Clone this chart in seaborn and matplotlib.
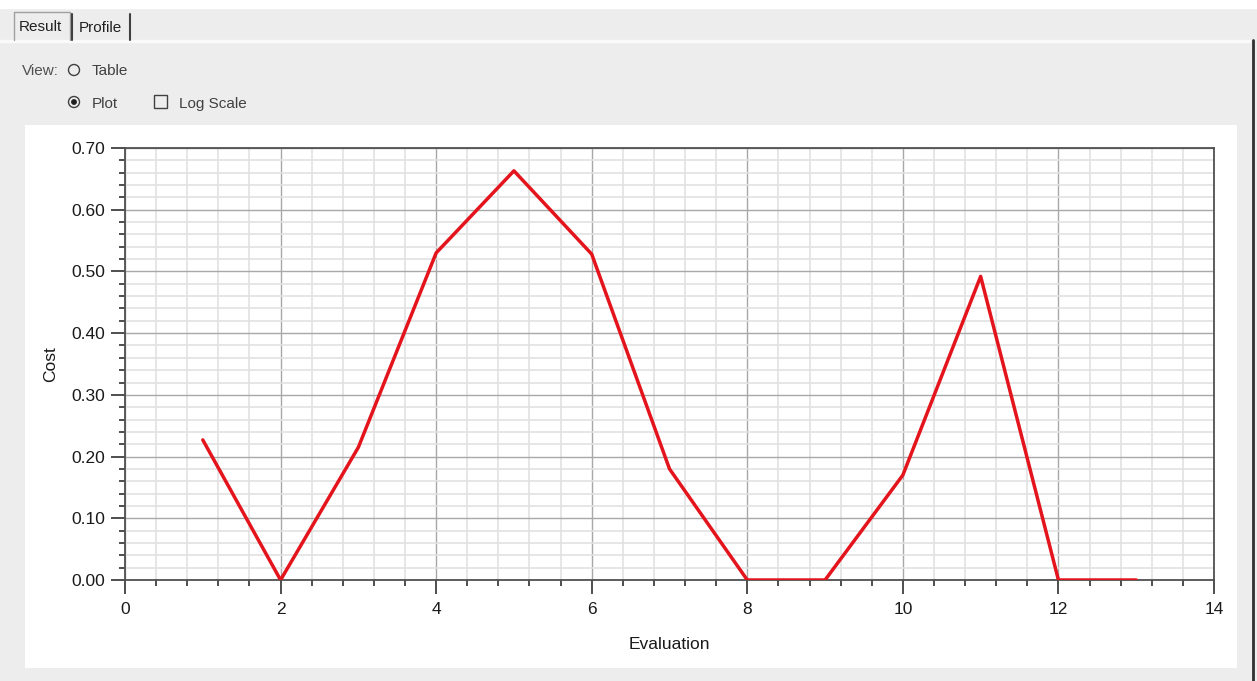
import matplotlib
matplotlib.use("Agg")
import matplotlib.pyplot as plt
import seaborn as sns
import pandas as pd
from matplotlib.patches import Rectangle, Circle
from matplotlib.ticker import MultipleLocator, FormatStrFormatter

evaluation = [1, 2, 3, 4, 5, 6, 7, 8, 9, 10, 11, 12, 13]
cost = [0.227, 0.0, 0.215, 0.530, 0.663, 0.528, 0.180, 0.0, 0.0, 0.170, 0.492, 0.0, 0.0]

df = pd.DataFrame({"Evaluation": evaluation, "Cost": cost})

sns.set_theme(style="white")
plt.rcParams['font.family'] = ['Liberation Sans', 'DejaVu Sans']

W, H = 1257, 681
fig = plt.figure(figsize=(W / 100, H / 100), dpi=100)
fig.patch.set_facecolor('#ededed')

def px(x, y, w, h):
    return (x / W, 1 - (y + h) / H, w / W, h / H)

# white plot panel
panel = fig.add_axes(px(25, 125, 1212, 543))
panel.set_facecolor('white')
panel.set_xticks([]); panel.set_yticks([])
for s in panel.spines.values():
    s.set_visible(False)

# UI: tabs and controls (overlay axes in pixel coordinates)
ui = fig.add_axes((0, 0, 1, 1), zorder=-1)
ui.set_xlim(0, W); ui.set_ylim(H, 0)
ui.axis('off')
ui.add_patch(Rectangle((0, 0), W, 8, color='white'))
ui.add_patch(Rectangle((0, 40), 1250, 2, color='#fafafa'))
ui.plot([14, 14, 70, 70], [40, 12, 12, 40], color='#a0a0a0', lw=1)
ui.plot([72, 72], [14, 40], color='#404040', lw=1.5)
ui.plot([130, 130], [14, 40], color='#404040', lw=1.5)
ui.text(19, 27, "Result", fontsize=11, va='center', ha='left', color='#202020')
ui.text(79, 28, "Profile", fontsize=11, va='center', ha='left', color='#202020')
ui.text(22, 71, "View:", fontsize=11, va='center', ha='left', color='#505050')
ui.add_patch(Circle((74, 70), 5.5, fill=False, ec='#404040', lw=1))
ui.text(92, 71, "Table", fontsize=11, va='center', ha='left', color='#404040')
ui.add_patch(Circle((74, 102), 5.5, fill=False, ec='#404040', lw=1))
ui.add_patch(Circle((74, 102), 2.2, color='#202020'))
ui.text(92, 104, "Plot", fontsize=11, va='center', ha='left', color='#404040')
ui.add_patch(Rectangle((154, 95), 13, 13, fill=False, ec='#404040', lw=1))
ui.text(179, 104, "Log Scale", fontsize=11, va='center', ha='left', color='#404040')
ui.plot([1253, 1253], [40, H], color='#303030', lw=2)

# main chart
ax = fig.add_axes(px(125, 148, 1089, 432))
ax.set_facecolor('white')
sns.lineplot(data=df, x="Evaluation", y="Cost", ax=ax, color='#e4141c', linewidth=2.5, zorder=3)
ax.set_xlim(0, 14)
ax.set_ylim(0, 0.70)
ax.xaxis.set_major_locator(MultipleLocator(2))
ax.xaxis.set_minor_locator(MultipleLocator(0.4))
ax.yaxis.set_major_locator(MultipleLocator(0.1))
ax.yaxis.set_minor_locator(MultipleLocator(0.02))
ax.yaxis.set_major_formatter(FormatStrFormatter('%.2f'))
ax.grid(which='major', color='#a8a8a8', lw=1)
ax.grid(which='minor', color='#e2e2e2', lw=1.2)
ax.set_axisbelow(True)
for s in ax.spines.values():
    s.set_visible(True)
    s.set_color('#505050')
    s.set_linewidth(1.3)
ax.tick_params(which='major', direction='out', length=10, width=1.3, color='#404040',
               labelsize=12.5, labelcolor='#1a1a1a', left=True, bottom=True, pad=4)
ax.tick_params(axis='x', which='major', pad=6)
ax.tick_params(which='minor', direction='out', length=4.5, width=1.3, color='#404040',
               left=True, bottom=True)
ax.set_xlabel("Evaluation", fontsize=12.5, color='#1a1a1a', labelpad=14)
ax.set_ylabel("Cost", fontsize=12.5, color='#1a1a1a', labelpad=10)

fig.savefig("out.png", dpi=100, facecolor=fig.get_facecolor())
